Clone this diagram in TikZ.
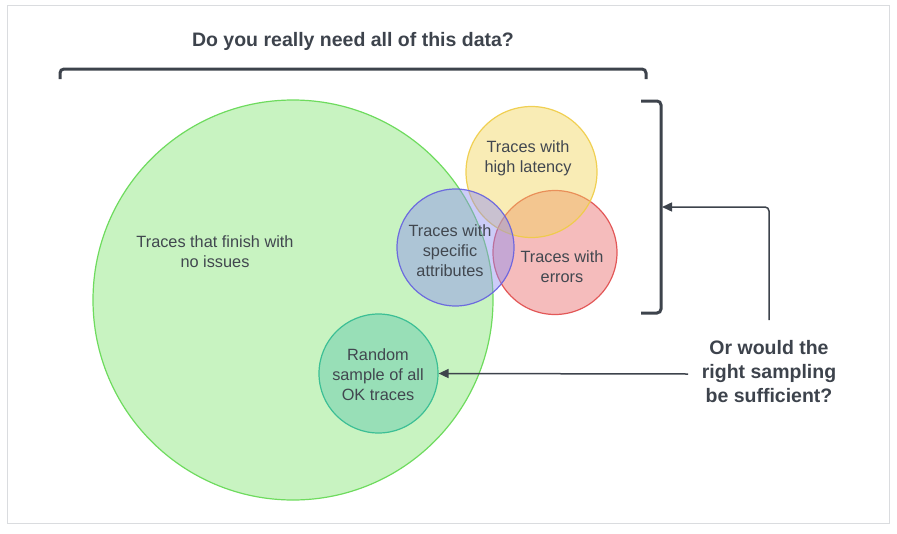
\documentclass[tikz,border=0pt]{standalone}
\usepackage{fontspec}
\setmainfont{Liberation Sans}
\usetikzlibrary{arrows.meta,calc}
\definecolor{ink}{HTML}{3D434C}
\definecolor{lbl}{HTML}{41474F}
\definecolor{frame}{HTML}{DADCDF}
\definecolor{gfill}{HTML}{C8F3C1}
\definecolor{gline}{HTML}{6EDB5E}
\definecolor{yfill}{HTML}{F2D45C}
\definecolor{yline}{HTML}{EFCC45}
\definecolor{rfill}{HTML}{E86A6A}
\definecolor{rline}{HTML}{E04A4A}
\definecolor{bfill}{HTML}{8E8EF0}
\definecolor{bline}{HTML}{6560E0}
\definecolor{kfill}{HTML}{98DFB7}
\definecolor{kline}{HTML}{3CBF95}
\tikzset{
  venn/.style={circle, inner sep=0pt, line width=1.2pt, text=lbl, align=center,
    font=\fontsize{16.3}{20}\selectfont},
  bracketline/.style={draw=ink, line width=3pt, rounded corners=4pt},
  connector/.style={draw=ink, line width=1.5pt, -{Triangle[length=10pt,width=9pt]}},
  heading/.style={text=ink, align=center, font=\bfseries\fontsize{19.5}{24}\selectfont}
}
\begin{document}
\begin{tikzpicture}[x=1pt,y=-1pt]
\useasboundingbox (0,0) rectangle (897,533);
\draw[frame, line width=1pt] (7,5) rectangle (889,523);
% circles
\node[venn, minimum size=400pt, fill=gfill, draw=gline] (ok) at (293,300) {};
\node[venn, minimum size=119pt, fill=kfill, draw=kline] (rnd) at (378.5,373.5) {};
\node[venn, minimum size=124pt, fill=rfill, fill opacity=0.45, draw=rline, draw opacity=0.9] (err) at (555,252.5) {};
\node[venn, minimum size=131pt, fill=yfill, fill opacity=0.45, draw=yline, draw opacity=0.9] (lat) at (531.5,172) {};
\node[venn, minimum size=117pt, fill=bfill, fill opacity=0.45, draw=bline, draw opacity=0.9] (att) at (455.5,247.5) {};
% labels
\node[venn, draw=none] (okl) at (215,252) {Traces that finish with\\no issues};
\node[venn, draw=none] (rndl) at (378,375) {Random\\sample of all\\OK traces};
\node[venn, draw=none] (latl) at (528,158) {Traces with\\high latency};
\node[venn, draw=none] (errl) at (562,267) {Traces with\\errors};
\node[venn, draw=none] (attl) at (450,251) {Traces with\\specific\\attributes};
% title and top bracket
\node[heading] (title) at (353,41) {Do you really need all of this data?};
\draw[bracketline] (60,79) -- (60,69) -- (646,69) -- (646,79);
% right bracket
\draw[bracketline] (641,101) -- (661,101) -- (661,313) -- (641,313);
\coordinate (brk) at (662,207);
% question
\node[heading] (q) at (769,372) {Or would the\\right sampling\\be sufficient?};
\coordinate (qtop) at (769,320);
\coordinate (qleft) at (688,374);
\draw[connector, rounded corners=4pt] (qtop) |- (brk);
\draw[connector] (qleft) -- (rnd.east);
\end{tikzpicture}
\end{document}
